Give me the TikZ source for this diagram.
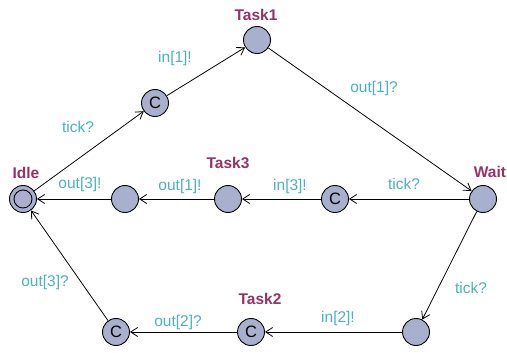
\documentclass[tikz,border=0pt]{standalone}
\usepackage{fontspec}
\setmainfont{Liberation Sans}
\usetikzlibrary{arrows.meta}
\definecolor{locfill}{RGB}{168,176,206}
\definecolor{namecol}{RGB}{150,50,100}
\definecolor{synccol}{RGB}{75,178,188}
\begin{document}
\begin{tikzpicture}
    [x=1pt,y=-1pt,->,>={Straight Barb[length=7pt,width=9pt]},line width=0.8pt,
     loc/.style={circle,draw,fill=locfill,minimum size=27pt,inner sep=0pt,line width=0.9pt},
     committed/.style={loc,font=\fontsize{16.5}{16.5}\selectfont},
     locname/.style={text=namecol,font=\bfseries\fontsize{15.5}{16}\selectfont},
     sync/.style={text=synccol,font=\fontsize{15.5}{16}\selectfont}]
    \useasboundingbox (0,0) rectangle (507,353);

    % locations
    \foreach \name/\x/\y in {Idle/23/199, Task1/257/40, Wait/483/199, Task3/228/199, Back3/125/199, Go2/416/332}
      \node[loc] (\name) at (\x,\y) {};
    \node[loc,minimum size=18pt] (Idle-init) at (Idle) {};

    \foreach \name/\x/\y in {Start1/155/103, Start3/335/199, Task2/251/332, Done2/116/332}
      \node[committed] (\name) at (\x,\y) {C};

    % location names
    \foreach \name/\x/\y in {Idle/26/173, Task1/256/15, Wait/490/172, Task3/228/163, Task2/260/299}
      \node[locname] (\name-name) at (\x,\y) {\name};

    % edges
    \foreach \from/\to in {Idle/Start1, Start1/Task1, Task1/Wait, Wait/Start3, Start3/Task3,
                           Task3/Back3, Back3/Idle, Wait/Go2, Go2/Task2, Task2/Done2, Done2/Idle}
      \draw (\from) -- (\to);

    % synchronisations
    \foreach \name/\x/\y/\text in {s1/78/127/tick?, s2/175/58/in[1]!, s3/374/88/out[1]?,
                                   s4/404/184/tick?, s5/290/186/in[3]!, s6/180/186/out[1]!,
                                   s7/80/184/out[3]!, s8/471/288/tick?, s9/338/318/in[2]!,
                                   s10/178/322/out[2]?, s11/45/282/out[3]?}
      \node[sync] (\name) at (\x,\y) {\text};
  \end{tikzpicture}
\end{document}
